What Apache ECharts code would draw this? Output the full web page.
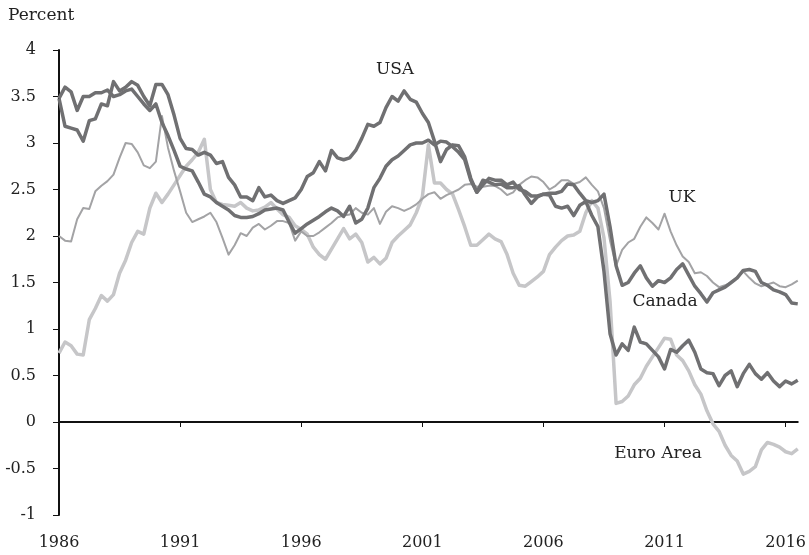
<!DOCTYPE html>
<html>
<head>
    <meta charset="UTF-8">
    <title>Percent</title>
    <style type="text/css">
        body { margin: 0; background: #fff; }
        #chart { width: 809px; height: 555px; }
    </style>
</head>
<body>
<div id="chart"></div>
<script src="https://cdn.jsdelivr.net/npm/echarts@6/dist/echarts.min.js"></script>
<script>
    // quarterly, 1986Q1 .. 2016Q3
    var startYear = 1986;
    var yearTicks = ['1986', '1991', '1996', '2001', '2006', '2011', '2016'];

    var usa = [3.48, 3.18, 3.16, 3.14, 3.02, 3.24, 3.26, 3.42, 3.40, 3.66,
        3.56, 3.60, 3.66, 3.62, 3.50, 3.40, 3.63, 3.63, 3.52, 3.30,
        3.05, 2.94, 2.93, 2.87, 2.90, 2.87, 2.78, 2.80, 2.63, 2.55,
        2.42, 2.42, 2.38, 2.52, 2.42, 2.44, 2.38, 2.35, 2.38, 2.41,
        2.50, 2.64, 2.68, 2.80, 2.70, 2.92, 2.84, 2.82, 2.84, 2.92,
        3.05, 3.20, 3.18, 3.22, 3.38, 3.50, 3.45, 3.56, 3.47, 3.44,
        3.32, 3.22, 3.02, 2.80, 2.93, 2.98, 2.97, 2.85, 2.62, 2.47,
        2.60, 2.58, 2.55, 2.56, 2.52, 2.52, 2.54, 2.44, 2.35, 2.42,
        2.45, 2.44, 2.32, 2.30, 2.32, 2.22, 2.33, 2.37, 2.22, 2.10,
        1.62, 0.95, 0.72, 0.84, 0.77, 1.02, 0.86, 0.84, 0.77, 0.70,
        0.57, 0.78, 0.75, 0.82, 0.88, 0.75, 0.57, 0.53, 0.52, 0.39,
        0.50, 0.55, 0.38, 0.52, 0.62, 0.52, 0.46, 0.53, 0.44, 0.38,
        0.44, 0.41, 0.45];

    var canada = [3.48, 3.60, 3.55, 3.35, 3.50, 3.50, 3.54, 3.54, 3.57, 3.50,
        3.52, 3.56, 3.58, 3.50, 3.42, 3.35, 3.42, 3.22, 3.08, 2.92,
        2.75, 2.72, 2.70, 2.58, 2.45, 2.42, 2.36, 2.32, 2.28, 2.22,
        2.20, 2.20, 2.21, 2.24, 2.28, 2.29, 2.30, 2.28, 2.15, 2.03,
        2.08, 2.13, 2.17, 2.21, 2.26, 2.30, 2.27, 2.21, 2.32, 2.14,
        2.18, 2.30, 2.52, 2.62, 2.75, 2.82, 2.86, 2.92, 2.98, 3.00,
        3.00, 3.03, 2.98, 3.02, 3.01, 2.96, 2.90, 2.82, 2.60, 2.47,
        2.55, 2.62, 2.60, 2.60, 2.55, 2.58, 2.50, 2.48, 2.43, 2.43,
        2.45, 2.46, 2.46, 2.48, 2.56, 2.55, 2.46, 2.38, 2.36, 2.38,
        2.45, 2.10, 1.68, 1.47, 1.50, 1.60, 1.68, 1.55, 1.46, 1.52,
        1.50, 1.55, 1.64, 1.70, 1.58, 1.46, 1.38, 1.29, 1.39, 1.42,
        1.45, 1.50, 1.55, 1.63, 1.64, 1.62, 1.50, 1.47, 1.42, 1.40,
        1.37, 1.28, 1.27];

    var uk = [2.00, 1.95, 1.94, 2.18, 2.30, 2.29, 2.48, 2.54, 2.59, 2.66,
        2.84, 3.00, 2.99, 2.90, 2.76, 2.73, 2.80, 3.29, 2.95, 2.70,
        2.48, 2.25, 2.15, 2.18, 2.21, 2.25, 2.15, 1.98, 1.80, 1.90,
        2.03, 2.00, 2.09, 2.13, 2.07, 2.11, 2.16, 2.16, 2.14, 1.95,
        2.05, 2.00, 2.00, 2.04, 2.09, 2.14, 2.20, 2.22, 2.23, 2.30,
        2.25, 2.23, 2.30, 2.13, 2.26, 2.32, 2.30, 2.27, 2.30, 2.34,
        2.40, 2.45, 2.47, 2.40, 2.44, 2.47, 2.50, 2.55, 2.56, 2.53,
        2.53, 2.54, 2.54, 2.50, 2.44, 2.47, 2.55, 2.60, 2.64, 2.63,
        2.58, 2.50, 2.54, 2.60, 2.60, 2.56, 2.58, 2.63, 2.55, 2.48,
        2.30, 1.95, 1.68, 1.85, 1.93, 1.97, 2.10, 2.20, 2.14, 2.07,
        2.24, 2.05, 1.90, 1.78, 1.72, 1.60, 1.61, 1.57, 1.50, 1.45,
        1.47, 1.50, 1.56, 1.62, 1.55, 1.49, 1.46, 1.48, 1.50, 1.46,
        1.45, 1.48, 1.52];

    var euro = [0.74, 0.86, 0.82, 0.73, 0.72, 1.10, 1.22, 1.36, 1.30, 1.37,
        1.60, 1.74, 1.93, 2.05, 2.02, 2.30, 2.46, 2.36, 2.45, 2.55,
        2.65, 2.75, 2.82, 2.90, 3.04, 2.50, 2.36, 2.34, 2.33, 2.32,
        2.36, 2.30, 2.27, 2.28, 2.31, 2.36, 2.29, 2.23, 2.20, 2.11,
        2.07, 2.02, 1.88, 1.80, 1.75, 1.86, 1.97, 2.08, 1.97, 2.02,
        1.93, 1.72, 1.77, 1.70, 1.76, 1.93, 2.00, 2.06, 2.12, 2.25,
        2.42, 2.98, 2.57, 2.57, 2.50, 2.45, 2.28, 2.10, 1.90, 1.90,
        1.96, 2.02, 1.97, 1.94, 1.80, 1.60, 1.47, 1.46, 1.51, 1.56,
        1.62, 1.80, 1.88, 1.95, 2.00, 2.01, 2.05, 2.25, 2.38, 2.30,
        1.98, 1.30, 0.20, 0.22, 0.28, 0.40, 0.47, 0.60, 0.70, 0.80,
        0.90, 0.89, 0.72, 0.66, 0.55, 0.40, 0.30, 0.12, -0.02, -0.10,
        -0.25, -0.36, -0.42, -0.56, -0.53, -0.48, -0.30, -0.22, -0.24, -0.27,
        -0.32, -0.34, -0.29];

    var quarters = [];
    for (var q = 0; q < usa.length; q++) {
        quarters.push((startYear + Math.floor(q / 4)) + 'Q' + (q % 4 + 1));
    }

    var font = 'DejaVu Serif';
    var darkGray = '#707072';

    var myChart = echarts.init(document.getElementById('chart'));

    function line(name, data, color, width) {
        return {
            name: name,
            type: 'line',
            data: data,
            showSymbol: false,
            symbol: 'none',
            silent: true,
            animation: false,
            lineStyle: {color: color, width: width, join: 'round'}
        };
    }

    var option = {
        animation: false,
        grid: {left: 59, right: 0, top: 50, bottom: 40},
        xAxis: {
            type: 'category',
            data: quarters,
            boundaryGap: false,
            axisLine: {lineStyle: {color: '#111', width: 2}},
            axisTick: {
                interval: function (idx) { return idx % 20 === 0; },
                length: 5,
                lineStyle: {color: '#111', width: 1}
            },
            axisLabel: {
                interval: function (idx) { return idx % 20 === 0; },
                formatter: function (v, idx) { return yearTicks[idx / 20]; },
                color: '#222',
                fontFamily: font,
                fontSize: 16,
                margin: 20
            },
            splitLine: {show: false}
        },
        yAxis: {
            type: 'value',
            min: -1,
            max: 4,
            interval: 0.5,
            axisLine: {show: true, lineStyle: {color: '#111', width: 2}},
            axisTick: {show: true, length: 6, lineStyle: {color: '#111', width: 1}},
            axisLabel: {color: '#222', fontFamily: font, fontSize: 16, margin: 23},
            splitLine: {show: false}
        },
        graphic: [
            {type: 'text', left: 8, top: 7, style: {text: 'Percent', font: '17px "DejaVu Serif"', fill: '#222'}},
            {type: 'text', x: 395, y: 70, style: {text: 'USA', font: '17px "DejaVu Serif"', fill: '#222', textAlign: 'center', textVerticalAlign: 'middle'}},
            {type: 'text', x: 682, y: 198, style: {text: 'UK', font: '17px "DejaVu Serif"', fill: '#222', textAlign: 'center', textVerticalAlign: 'middle'}},
            {type: 'text', x: 665, y: 302, style: {text: 'Canada', font: '17px "DejaVu Serif"', fill: '#222', textAlign: 'center', textVerticalAlign: 'middle'}},
            {type: 'text', x: 658, y: 454, style: {text: 'Euro Area', font: '17px "DejaVu Serif"', fill: '#222', textAlign: 'center', textVerticalAlign: 'middle'}}
        ],
        series: [
            line('Euro Area', euro, '#c6c6c8', 3.5),
            line('UK', uk, '#a3a3a5', 2),
            line('Canada', canada, darkGray, 3.5),
            line('USA', usa, darkGray, 3.5)
        ]
    };

    myChart.setOption(option);
</script>
</body>
</html>
